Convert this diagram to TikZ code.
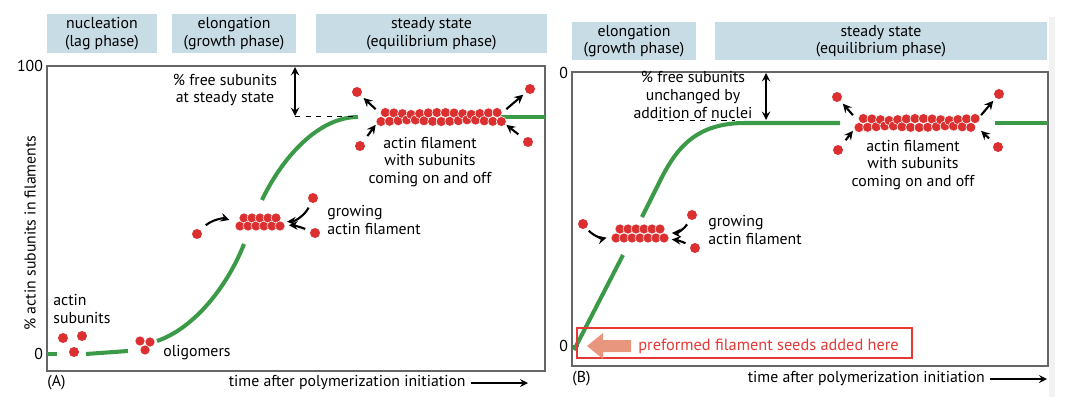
\documentclass[tikz,border=0pt]{standalone}
\usepackage{fontspec}
\setmainfont{PT Sans}
\usetikzlibrary{arrows}
\definecolor{phaseblue}{HTML}{C8DCE5}
\definecolor{curvegreen}{HTML}{3A9A47}
\definecolor{actinred}{HTML}{DC2F2F}
\definecolor{framegray}{HTML}{666666}
\definecolor{seedsalmon}{HTML}{E9967E}
\definecolor{boxred}{HTML}{E53935}
\begin{document}
\begin{tikzpicture}
[x=0.02cm,y=-0.02cm,font=\fontsize{9}{10}\selectfont,
  phasedecorate/.style={fill=phaseblue,minimum height=0.77cm,inner sep=0pt,align=center},
  framedecorate/.style={draw=framegray,line width=0.8pt},
  curvedecorate/.style={draw=curvegreen,line width=2.3pt},
  subunitdecorate/.style={shape=circle,fill=actinred,minimum size=0.2cm,inner sep=0pt},
  beaddecorate/.style={fill=actinred,draw=white,line width=0.3pt},
  filamentdecorate/.style={inner sep=0pt},
  arrowdecorate/.style={->,>=stealth,line width=1.2pt},
  labeldecorate/.style={align=center,inner sep=0pt}]
\useasboundingbox (0,0) rectangle (1066,406);
\fill[black!5] (1049,17) rectangle (1055,397);
% phase headers
\node (pA1) at (102,33.5) [phasedecorate,minimum width=2.2cm] {nucleation\\(lag phase)};
\node (pA2) at (234,33.5) [phasedecorate,minimum width=2.48cm] {elongation\\(growth phase)};
\node (pA3) at (431.5,33.5) [phasedecorate,minimum width=4.62cm] {steady state\\(equilibrium phase)};
\node (pB1) at (634,41) [phasedecorate,minimum width=2.48cm] {elongation\\(growth phase)};
\node (pB2) at (881,41) [phasedecorate,minimum width=6.64cm] {steady state\\(equilibrium phase)};
% frames and axes
\draw[framedecorate] (47,66) rectangle (545,371);
\draw[framedecorate] (572,72) rectangle (1048,366);
\draw[framedecorate] (572,346) -- (579,346);
\node (yA100) [anchor=east,inner sep=1pt] at (45,66) {100};
\node (yA0) [anchor=east,inner sep=1pt] at (45,354) {0};
\node (yB100) [anchor=east,inner sep=1pt] at (570,73) {0};
\node (yB0) [anchor=east,inner sep=1pt] at (570,346) {0};
\node (ylab) [rotate=90] at (30,233) {\% actin subunits in filaments};
\node (capA) [anchor=west,inner sep=0pt] at (47,383) {(A)};
\node (capB) [anchor=west,inner sep=0pt] at (572,379) {(B)};
\node (tA) [anchor=east,inner sep=0pt] at (466,383) {time after polymerization initiation};
\node (tB) [anchor=east,inner sep=0pt] at (985,379) {time after polymerization initiation};
\coordinate (tAend) at (528,383);
\coordinate (tBend) at (1047,379);
\draw[arrowdecorate,line width=1pt] ([xshift=3pt]tA.east) -- (tAend);
\draw[arrowdecorate,line width=1pt] ([xshift=3pt]tB.east) -- (tBend);
% curves
\draw[curvedecorate] (47,354) -- (57,354);
\draw[curvedecorate] (86,354) -- (128,351);
\draw[curvedecorate] (157,341) .. controls (195,328) and (228,285) .. (244,244);
\draw[curvedecorate] (262,200) .. controls (282,158) and (318,117) .. (358,117);
\draw[curvedecorate] (498,117) -- (545,117);
\draw[curvedecorate] (574,350) -- (623,255);
\draw[curvedecorate] (642,217) -- (662,177) .. controls (678,146) and (698,123) .. (745,123) -- (840,123);
\draw[curvedecorate] (995,123) -- (1048,123);
% free subunits at steady state
\coordinate (dA1) at (295,67);
\coordinate (dA2) at (295,116);
\coordinate (cA) at (357,116);
\draw[<->,>=stealth,line width=1.1pt] (dA1) -- (dA2);
\draw[dashed,line width=0.5pt] (dA2) -- (cA);
\node (freeA) at (225,90) [labeldecorate] {\% free subunits\\at steady state};
\coordinate (dB1) at (766,73);
\coordinate (dB2) at (766,120);
\coordinate (cB1) at (658,120);
\coordinate (cB2) at (735,120);
\draw[<->,>=stealth,line width=1.1pt] (dB1) -- (dB2);
\draw[dashed,line width=0.5pt] (cB1) -- (cB2);
\node (freeB) at (693,95) [labeldecorate] {\% free subunits\\unchanged by\\addition of nuclei};
% actin subunits and oligomers
\node (uA1) at (63,338) [subunitdecorate] {};
\node (uA2) at (82,336) [subunitdecorate] {};
\node (uA3) at (74,352) [subunitdecorate] {};
\node (subA) [anchor=west,align=left,inner sep=0pt] at (53,309) {actin\\subunits};
\foreach \bx/\by in {140/341,150/342,145/350}
  \fill[beaddecorate] (\bx,\by) circle[radius=0.1cm];
\node (oliA) [anchor=west,inner sep=0pt] at (163,353) {oligomers};
% growing filaments
\foreach \i in {0,...,10}{
  \pgfmathsetmacro{\bx}{240+4*\i}
  \pgfmathsetmacro{\by}{222+4*(1-2*mod(\i,2))}
  \fill[beaddecorate] (\bx,\by) circle[radius=0.1cm];
}
\node (gA) at (259,222) [filamentdecorate,minimum width=0.9cm,minimum height=0.32cm] {};
\node (gsA1) at (197,234) [subunitdecorate] {};
\node (gsA2) at (313,198) [subunitdecorate] {};
\node (gsA3) at (315,233) [subunitdecorate] {};
\draw[arrowdecorate,shorten <=4pt,shorten >=4pt] (gsA1) to[bend left=30] (gA.west);
\draw[arrowdecorate,shorten <=3pt,shorten >=3pt] (gsA2) to[bend left=30] (gA.east);
\draw[arrowdecorate,shorten <=3pt,shorten >=4pt] (gsA3) to[bend right=10] ([yshift=-0.06cm]gA.east);
\node (grA) [anchor=west,align=left,inner sep=0pt] at (327,220) {growing\\actin filament};
\foreach \i in {0,...,12}{
  \pgfmathsetmacro{\bx}{616+4*\i}
  \pgfmathsetmacro{\by}{233.5+4.5*(1-2*mod(\i,2))}
  \fill[beaddecorate] (\bx,\by) circle[radius=0.1cm];
}
\node (gB) at (640,233) [filamentdecorate,minimum width=1.05cm,minimum height=0.34cm] {};
\node (gsB1) at (583,224) [subunitdecorate] {};
\node (gsB2) at (692,215) [subunitdecorate] {};
\node (gsB3) at (695,248) [subunitdecorate] {};
\draw[arrowdecorate,shorten <=2pt,shorten >=4pt] (gsB1) to[bend right=30] ([yshift=-0.06cm]gB.west);
\draw[arrowdecorate,shorten <=3pt,shorten >=3pt] (gsB2) to[bend left=30] (gB.east);
\draw[arrowdecorate,shorten <=3pt,shorten >=3pt] (gsB3) to[bend right=10] ([yshift=-0.12cm]gB.east);
\node (grB) [anchor=west,align=left,inner sep=0pt] at (708,230) {growing\\actin filament};
% steady state filaments
\foreach \i in {0,...,28}{
  \pgfmathsetmacro{\bx}{381+4.3*\i}
  \pgfmathsetmacro{\by}{117+(1-2*mod(\i,2))*(2.5+2*abs(cos(\i*13)))}
  \fill[beaddecorate] (\bx,\by) circle[radius=0.1cm];
}
\node (fA) at (441,117) [filamentdecorate,minimum width=2.6cm,minimum height=0.3cm] {};
\node (sA1) at (357,92) [subunitdecorate] {};
\node (sA2) at (360,146) [subunitdecorate] {};
\node (sA3) at (530,89) [subunitdecorate] {};
\node (sA4) at (528,142) [subunitdecorate] {};
\draw[arrowdecorate,shorten <=0pt,shorten >=2pt] (fA.north west) -- (sA1);
\draw[arrowdecorate,shorten <=4pt,shorten >=0pt] (sA2) -- (fA.south west);
\draw[arrowdecorate,shorten <=0pt,shorten >=2pt] (fA.north east) -- (sA3);
\draw[arrowdecorate,shorten <=4pt,shorten >=0pt] (sA4) -- (fA.south east);
\node (onoffA) at (430,162) [labeldecorate] {actin filament\\with subunits\\coming on and off};
\foreach \i in {0,...,27}{
  \pgfmathsetmacro{\bx}{859+4.3*\i}
  \pgfmathsetmacro{\by}{123+(1-2*mod(\i,2))*(2.5+2*abs(cos(\i*13)))}
  \fill[beaddecorate] (\bx,\by) circle[radius=0.1cm];
}
\node (fB) at (917,123) [filamentdecorate,minimum width=2.55cm,minimum height=0.3cm] {};
\node (sB1) at (837,97) [subunitdecorate] {};
\node (sB2) at (838,150) [subunitdecorate] {};
\node (sB3) at (999,94) [subunitdecorate] {};
\node (sB4) at (998,147) [subunitdecorate] {};
\draw[arrowdecorate,shorten <=0pt,shorten >=2pt] (fB.north west) -- (sB1);
\draw[arrowdecorate,shorten <=4pt,shorten >=0pt] (sB2) -- (fB.south west);
\draw[arrowdecorate,shorten <=0pt,shorten >=2pt] (fB.north east) -- (sB3);
\draw[arrowdecorate,shorten <=4pt,shorten >=0pt] (sB4) -- (fB.south east);
\node (onoffB) at (913,165) [labeldecorate] {actin filament\\with subunits\\coming on and off};
% seeds added
\draw[draw=boxred,line width=0.8pt] (577,328) rectangle (912,358);
\fill[seedsalmon] (631,340) -- (603,340) -- (603,333) -- (587,346) -- (603,359) -- (603,352) -- (631,352) -- cycle;
\node (seedB) [anchor=west,inner sep=0pt,text=boxred,font=\fontsize{9.3}{10}\selectfont] at (638,346) {preformed filament seeds added here};
\end{tikzpicture}
\end{document}
